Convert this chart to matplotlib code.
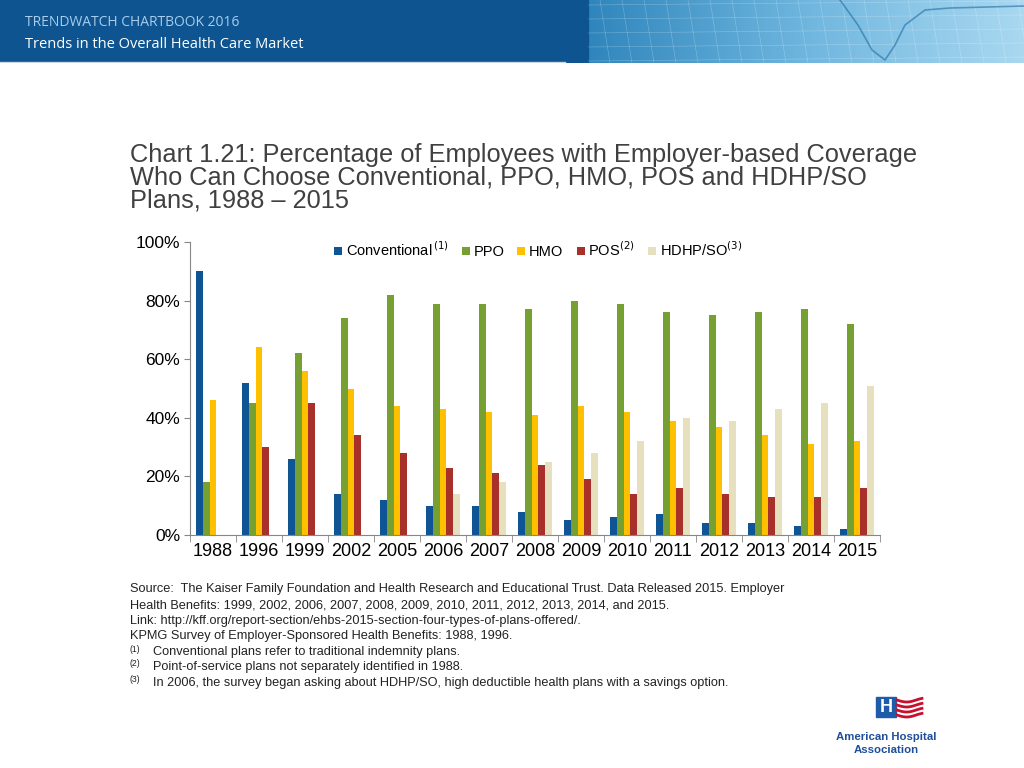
import matplotlib
matplotlib.use("Agg")
from matplotlib import pyplot as plt
from matplotlib.patches import Rectangle
import numpy as np

plt.rcParams['font.family'] = ['Liberation Sans', 'DejaVu Sans']

# data
years = ["1988", "1996", "1999", "2002", "2005", "2006", "2007", "2008",
         "2009", "2010", "2011", "2012", "2013", "2014", "2015"]
conventional = [90, 52, 26, 14, 12, 10, 10, 8, 5, 6, 7, 4, 4, 3, 2]
ppo = [18, 45, 62, 74, 82, 79, 79, 77, 80, 79, 76, 75, 76, 77, 72]
hmo = [46, 64, 56, 50, 44, 43, 42, 41, 44, 42, 39, 37, 34, 31, 32]
pos = [0, 30, 45, 34, 28, 23, 21, 24, 19, 14, 16, 14, 13, 13, 16]
hdhp = [0, 0, 0, 0, 0, 14, 18, 25, 28, 32, 40, 39, 43, 45, 51]

series = [conventional, ppo, hmo, pos, hdhp]
labels = ["Conventional$^{\\,(1)}$", "PPO", "HMO", "POS$^{(2)}$", "HDHP/SO$^{(3)}$"]
colors = ["#0F5495", "#77A033", "#FFC000", "#A8302A", "#E6E0BF"]

fig = plt.figure(figsize=(10.24, 7.68), dpi=100)

# header band
hdr = fig.add_axes([0, 1 - 63 / 768, 1, 63 / 768])
hdr.set_xlim(0, 1024)
hdr.set_ylim(63, 0)
hdr.axis("off")
hdr.add_patch(Rectangle((0, 0), 588, 63, color="#0D5490"))
grad = np.linspace(0, 1, 200)[None, :]
cmap = matplotlib.colors.LinearSegmentedColormap.from_list("h", ["#2F86BC", "#6FB6DF", "#A9D8F0"])
hdr.imshow(grad, extent=(588, 1024, 63, 0), cmap=cmap, aspect="auto")
for gx in np.arange(600, 1024, 22):
    hdr.plot([gx, gx + 10], [0, 63], color="white", lw=0.4, alpha=0.3)
for gy in np.arange(5, 63, 14):
    hdr.plot([588, 1024], [gy, gy - 4], color="white", lw=0.4, alpha=0.3)
ecg_x = [840, 858, 872, 885, 895, 905, 925, 950, 1024]
ecg_y = [0, 25, 50, 60, 45, 25, 10, 8, 6]
hdr.plot(ecg_x, ecg_y, color="#1E6FA6", lw=1.2, alpha=0.6)
hdr.plot([0, 565], [62, 62], color="#C9D6E2", lw=1)
fig.text(25 / 1024, 1 - 23 / 768, "TRENDWATCH CHARTBOOK 2016", color="#A9CDEB",
         fontsize=10, va="center", family=["Open Sans", "DejaVu Sans"])
fig.text(25 / 1024, 1 - 44 / 768, "Trends in the Overall Health Care Market", color="white",
         fontsize=10.5, va="center", family=["Open Sans", "DejaVu Sans"])

# chart title
fig.text(130 / 1024, 1 - 143 / 768,
         "Chart 1.21: Percentage of Employees with Employer-based Coverage\n"
         "Who Can Choose Conventional, PPO, HMO, POS and HDHP/SO\n"
         "Plans, 1988 \u2013 2015",
         fontsize=18.3, color="#404040", va="top", linespacing=0.93)

# bar chart
ax = fig.add_axes([190 / 1024, 1 - 535 / 768, 690 / 1024, 293 / 768])
x = np.arange(len(years))
w = 0.152
for i, (vals, lab, col) in enumerate(zip(series, labels, colors)):
    ax.bar(x + (i - 2) * w, vals, width=w, color=col, label=lab)

ax.set_xlim(-0.5, len(years) - 0.5)
ax.set_ylim(0, 100)
ax.set_yticks(np.arange(0, 101, 20))
ax.set_yticklabels([f"{v}%" for v in range(0, 101, 20)])
ax.set_xticks(x)
ax.set_xticklabels(years)
ax.set_xticks(np.arange(-0.5, len(years), 1), minor=True)
ax.tick_params(axis="x", which="major", length=0, labelsize=13, pad=6)
ax.tick_params(axis="x", which="minor", length=5, color="#868686", direction="out")
ax.tick_params(axis="y", length=4, color="#868686", labelsize=12.5, pad=3)
for s in ["top", "right"]:
    ax.spines[s].set_visible(False)
for s in ["left", "bottom"]:
    ax.spines[s].set_color("#868686")
ax.legend(loc="upper left", bbox_to_anchor=(0.19, 1.05), ncol=5, frameon=False,
          fontsize=10.5, handlelength=0.55, handleheight=0.55, handletextpad=0.25,
          columnspacing=0.9)

# source notes
notes_y = [589, 605, 621, 636]
notes = ["Source:  The Kaiser Family Foundation and Health Research and Educational Trust. Data Released 2015. Employer",
         "Health Benefits: 1999, 2002, 2006, 2007, 2008, 2009, 2010, 2011, 2012, 2013, 2014, and 2015.",
         "Link: http://kff.org/report-section/ehbs-2015-section-four-types-of-plans-offered/.",
         "KPMG Survey of Employer-Sponsored Health Benefits: 1988, 1996."]
for yy, t in zip(notes_y, notes):
    fig.text(130 / 1024, 1 - yy / 768, t, fontsize=9.2, color="#222222", va="center")
foot_y = [652, 667, 683]
foot_marks = ["(1)", "(2)", "(3)"]
foot = ["Conventional plans refer to traditional indemnity plans.",
        "Point-of-service plans not separately identified in 1988.",
        "In 2006, the survey began asking about HDHP/SO, high deductible health plans with a savings option."]
for yy, m, t in zip(foot_y, foot_marks, foot):
    fig.text(130 / 1024, 1 - (yy - 3) / 768, m, fontsize=6.2, color="#222222", va="center")
    fig.text(153 / 1024, 1 - yy / 768, t, fontsize=9.2, color="#222222", va="center")

# logo
lg = fig.add_axes([820 / 1024, 0, 204 / 1024, 88 / 768])
lg.set_xlim(0, 204)
lg.set_ylim(88, 0)
lg.axis("off")
lg.add_patch(Rectangle((56, 17), 20, 20, color="#1E5BA8"))
lg.text(66, 27.5, "H", color="white", fontsize=13, fontweight="bold", ha="center", va="center")
wx = np.linspace(77, 102, 30)
for k in range(4):
    lg.plot(wx, 20 + k * 5 + 2 * np.sin((wx - 77) / 25 * np.pi * 1.3), color="#C8102E", lw=2)
lg.text(66, 57, "American Hospital", color="#1E4E9A", fontsize=8.2, fontweight="bold", ha="center", va="center")
lg.text(66, 70, "Association", color="#1E4E9A", fontsize=8.2, fontweight="bold", ha="center", va="center")

fig.savefig("out.png", dpi=100)
